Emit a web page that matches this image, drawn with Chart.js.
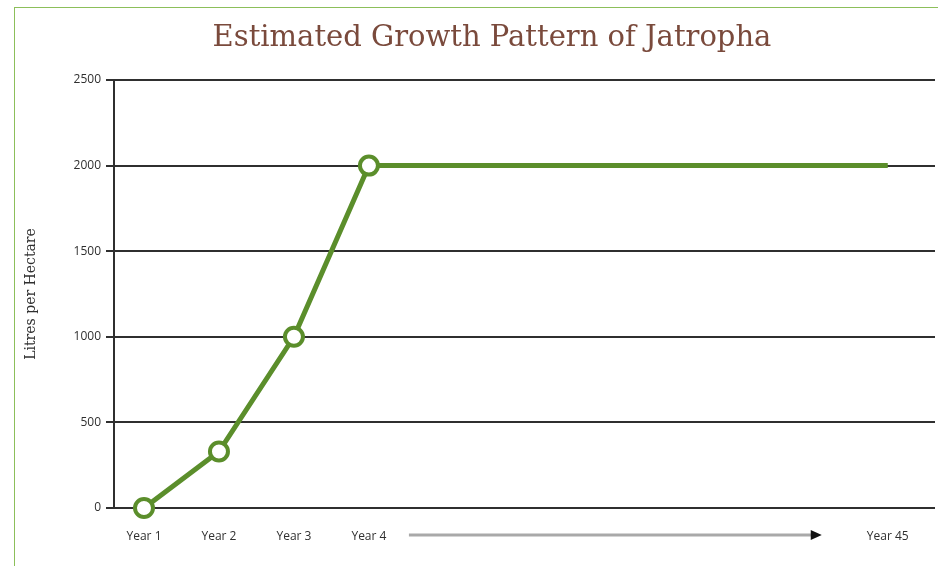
<!DOCTYPE html>
<html>
<head>
<meta charset="utf-8">
<script src="https://cdn.jsdelivr.net/npm/chart.js@4"></script>
<style>
  html, body { margin: 0; padding: 0; background: #fff; }
  .wrap { position: relative; width: 938px; height: 566px; overflow: hidden; }
  .frame { position: absolute; left: 14px; top: 7px; width: 1000px; height: 700px;
           border-left: 1px solid #8cbf5a; border-top: 1px solid #8cbf5a; }
  canvas { position: absolute; left: 0; top: 0; }
</style>
</head>
<body>
<div class="wrap">
  <div class="frame"></div>
  <canvas id="growth" width="938" height="566"></canvas>
</div>
<script>
// Jatropha yield by year; the gap between Year 4 and Year 45 stands for the long plateau
const years = ['Year 1', 'Year 2', 'Year 3', 'Year 4', 'Year 45'];
const yearSlot = [1, 2, 3, 4, 10.92];
const litres = [0, 330, 1000, 2000, 2000];
const markerShown = [true, true, true, true, false];
const yTicks = [0, 500, 1000, 1500, 2000, 2500];

const green = '#5b8e2b';
const ink = '#2f2f2f';

const titlePlugin = {
  id: 'pageTitle',
  afterDraw(chart) {
    const ctx = chart.ctx;
    ctx.save();
    ctx.font = '29px "DejaVu Serif", "Liberation Serif", serif';
    ctx.fillStyle = '#7a4a3c';
    ctx.textAlign = 'center';
    ctx.textBaseline = 'alphabetic';
    ctx.fillText('Estimated Growth Pattern of Jatropha', 492, 46);
    ctx.restore();
  }
};

// grey arrow between Year 4 and Year 45 labels
const arrowPlugin = {
  id: 'yearArrow',
  afterDraw(chart) {
    const x = chart.scales.x;
    const ctx = chart.ctx;
    const x0 = x.getPixelForValue(yearSlot[3]) + 40;
    const x1 = x.getPixelForValue(yearSlot[4]) - 66;
    const y = 535;
    ctx.save();
    ctx.strokeStyle = '#a9a9a9';
    ctx.lineWidth = 3;
    ctx.beginPath();
    ctx.moveTo(x0, y);
    ctx.lineTo(x1 - 8, y);
    ctx.stroke();
    ctx.fillStyle = '#111';
    ctx.beginPath();
    ctx.moveTo(x1 - 11, y - 5);
    ctx.lineTo(x1, y);
    ctx.lineTo(x1 - 11, y + 5);
    ctx.closePath();
    ctx.fill();
    ctx.restore();
  }
};

new Chart(document.getElementById('growth'), {
  type: 'line',
  data: {
    datasets: [{
      data: yearSlot.map((s, i) => ({ x: s, y: litres[i] })),
      borderColor: green,
      borderWidth: 5,
      backgroundColor: '#fff',
      pointBackgroundColor: '#fff',
      pointBorderColor: green,
      pointBorderWidth: 4,
      pointRadius: markerShown.map(m => (m ? 9 : 0)),
      tension: 0,
      clip: false
    }]
  },
  options: {
    responsive: false,
    animation: false,
    layout: { autoPadding: false, padding: { top: 80, right: 3, bottom: 6, left: 0 } },
    plugins: { legend: { display: false }, tooltip: { enabled: false }, title: { display: false } },
    scales: {
      x: {
        type: 'linear',
        min: 0.6,
        max: 11.55,
        afterBuildTicks: (scale) => { scale.ticks = yearSlot.map(v => ({ value: v })); },
        afterFit: (scale) => {
          scale.height = 52;
          scale.paddingLeft = 0;
          scale.paddingRight = 0;
        },
        grid: { display: false, drawTicks: false },
        border: { display: false },
        ticks: {
          padding: 21,
          color: ink,
          font: { family: '"Open Sans", "DejaVu Sans", sans-serif', size: 12 },
          callback: (v) => years[yearSlot.indexOf(v)] || ''
        }
      },
      y: {
        min: 0,
        max: 2500,
        afterBuildTicks: (scale) => { scale.ticks = yTicks.map(v => ({ value: v })); },
        afterFit: (scale) => { scale.width = 114; },
        grid: { color: ink, lineWidth: 2, tickLength: 8, tickColor: ink },
        border: { display: true, color: ink, width: 2 },
        ticks: {
          padding: 5,
          color: ink,
          font: { family: '"Open Sans", "DejaVu Sans", sans-serif', size: 12 },
          callback: (v) => String(v)
        },
        title: {
          display: true,
          text: 'Litres per Hectare',
          color: ink,
          padding: { top: 23, bottom: 0 },
          font: { family: '"DejaVu Serif", "Liberation Serif", serif', size: 14 }
        }
      }
    }
  },
  plugins: [titlePlugin, arrowPlugin]
});
</script>
</body>
</html>
